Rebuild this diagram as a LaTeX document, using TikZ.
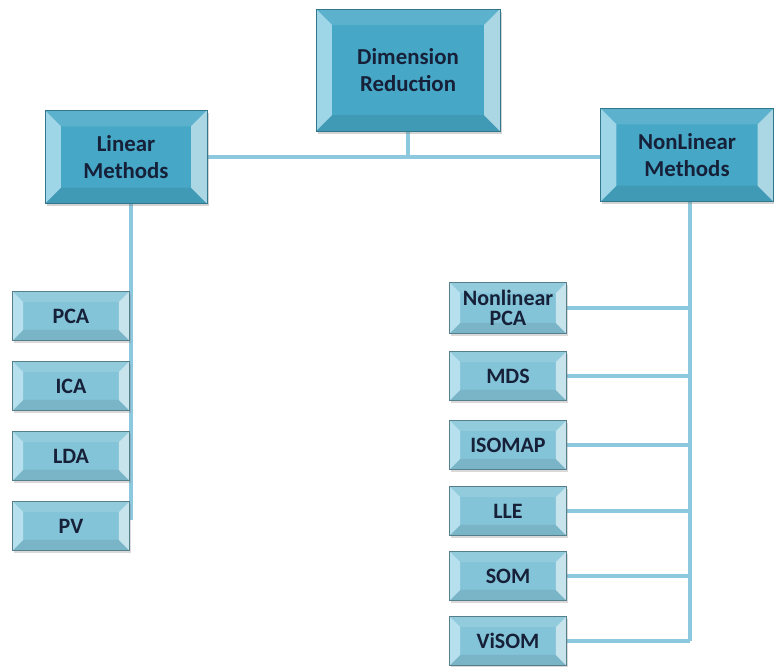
\documentclass[tikz,border=0pt]{standalone}
\usepackage{fontspec}
\setmainfont{Carlito}
\usepackage{xcolor}
\usetikzlibrary{positioning,shadows,backgrounds,calc}
\definecolor{bigteal}{RGB}{70,168,198}
\definecolor{smallteal}{RGB}{132,196,216}
\definecolor{linkblue}{RGB}{140,200,222}
\definecolor{darktxt}{RGB}{22,32,56}

\begin{document}
\begin{tikzpicture}[x=0.02cm, y=-0.02cm,
        bevel/.style={path picture={
            \fill[white, opacity=.12] (path picture bounding box.north west)
              -- (path picture bounding box.north east)
              -- ([xshift=-#1, yshift=-#1]path picture bounding box.north east)
              -- ([xshift=#1, yshift=-#1]path picture bounding box.north west) -- cycle;
            \fill[black, opacity=.08] (path picture bounding box.south west)
              -- (path picture bounding box.south east)
              -- ([xshift=-#1, yshift=#1]path picture bounding box.south east)
              -- ([xshift=#1, yshift=#1]path picture bounding box.south west) -- cycle;
            \fill[cyan!15, opacity=.6] (path picture bounding box.north west)
              -- ([xshift=#1, yshift=-#1]path picture bounding box.north west)
              -- ([xshift=#1, yshift=#1]path picture bounding box.south west)
              -- (path picture bounding box.south west) -- cycle;
            \fill[white, opacity=.55] (path picture bounding box.north east)
              -- ([xshift=-#1, yshift=-#1]path picture bounding box.north east)
              -- ([xshift=-#1, yshift=#1]path picture bounding box.south east)
              -- (path picture bounding box.south east) -- cycle;
          }},
        bigbox/.style={rectangle, fill=bigteal, draw=bigteal!70!black, line width=0.4pt,
                    bevel=9pt, drop shadow={shadow xshift=1pt, shadow yshift=-1.5pt, opacity=.35},
                    font=\fontsize{13}{15.5}\selectfont\bfseries, text=darktxt, align=center},
        smallbox/.style={rectangle, fill=smallteal, draw=smallteal!65!black, line width=0.4pt,
                    bevel=6pt, drop shadow={shadow xshift=0.8pt, shadow yshift=-1.2pt, opacity=.3},
                    minimum width=2.34cm, minimum height=0.98cm,
                    font=\fontsize{12.5}{13.5}\selectfont\bfseries, text=darktxt, align=center},
        link/.style={linkblue, line width=2.6pt}
      ]
        \useasboundingbox (0,0) rectangle (774,666);

        % top level
        \node[bigbox, minimum width=3.68cm, minimum height=2.44cm] (dimred) at (408,70)
              {Dimension\\Reduction};
        \node[bigbox, minimum width=3.24cm, minimum height=1.86cm] (linear) at (126,157)
              {Linear\\Methods};
        \node[bigbox, minimum width=3.46cm, minimum height=1.86cm] (nonlin) at (687,155)
              {NonLinear\\Methods};

        % linear methods
        \node[smallbox] (pca) at (71,316) {PCA};
        \node[smallbox] (ica) at (71,386) {ICA};
        \node[smallbox] (lda) at (71,456) {LDA};
        \node[smallbox] (pv)  at (71,526) {PV};

        % nonlinear methods
        \node[smallbox, minimum height=1.02cm] (nlpca) at (508,308) {Nonlinear\\[-2pt]PCA};
        \node[smallbox] (mds)    at (508,376) {MDS};
        \node[smallbox] (isomap) at (508,445) {ISOMAP};
        \node[smallbox] (lle)    at (508,511) {LLE};
        \node[smallbox] (som)    at (508,576) {SOM};
        \node[smallbox] (visom)  at (508,641) {ViSOM};

        \coordinate (linend) at (131,520);
        \coordinate (nlend) at (690,641);

        \begin{scope}[on background layer]
          \draw[link] (linear.east) -- (nonlin.west |- linear.east);
          \draw[link] (dimred.south) -- (dimred.south |- linear.east);
          \draw[link] (linear.south -| linend) -- (linend);
          \draw[link] (nonlin.south -| nlend) -- (nlend);
          \draw[link] (nlpca.east) -- (nlpca.east -| nlend);
          \draw[link] (mds.east) -- (mds.east -| nlend);
          \draw[link] (isomap.east) -- (isomap.east -| nlend);
          \draw[link] (lle.east) -- (lle.east -| nlend);
          \draw[link] (som.east) -- (som.east -| nlend);
          \draw[link] (visom.east) -- (visom.east -| nlend);
        \end{scope}
      \end{tikzpicture}
\end{document}
